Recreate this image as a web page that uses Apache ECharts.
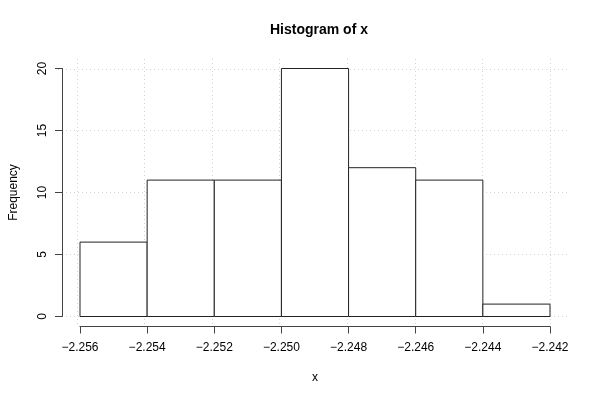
<!DOCTYPE html>
<html>
<head>
<meta charset="utf-8">
<script src="https://cdn.jsdelivr.net/npm/echarts@6/dist/echarts.min.js"></script>
<style>html,body{margin:0;padding:0;background:#fff}#c{width:600px;height:400px}</style>
</head>
<body>
<div id="c"></div>
<script>
// Data
const breaks = [-2.256, -2.254, -2.252, -2.250, -2.248, -2.246, -2.244, -2.242];
const counts = [6, 11, 11, 20, 12, 11, 1];
const xTicks = [-2.256, -2.254, -2.252, -2.250, -2.248, -2.246, -2.244, -2.242];
const yTicks = [0, 5, 10, 15, 20];
const titleText = 'Histogram of x';
const xName = 'x';
const yName = 'Frequency';

const bins = counts.map((c, i) => [breaks[i], breaks[i + 1], c]);
const FONT = 'Liberation Sans, Arial, Helvetica, sans-serif';
const fmt = v => (v < 0 ? '\u2212' : '') + Math.abs(v).toFixed(3);

const xRange = breaks[breaks.length - 1] - breaks[0];
const yMax = Math.max(...yTicks);

const chart = echarts.init(document.getElementById('c'), null, {renderer: 'canvas'});
chart.setOption({
  animation: false,
  backgroundColor: '#fff',
  title: {
    text: titleText, left: 314, top: 18, textAlign: 'center',
    textStyle: {fontFamily: FONT, fontSize: 14, fontWeight: 'bold', color: '#000'}
  },
  grid: [
    {left: 58, right: 31, top: 59, bottom: 74},
    {left: 77, right: 50, top: 68.5, bottom: 83.5}
  ],
  xAxis: [
    {
      type: 'value', gridIndex: 0,
      min: breaks[0] - xRange * 0.04, max: breaks[breaks.length - 1] + xRange * 0.04,
      axisLine: {show: false},
      axisTick: {show: false, customValues: xTicks},
      axisLabel: {show: false, customValues: xTicks},
      splitLine: {show: true, lineStyle: {color: '#d3d3d3', type: [1, 3], width: 1}}
    },
    {
      type: 'value', gridIndex: 1,
      min: xTicks[0], max: xTicks[xTicks.length - 1], interval: 0.002,
      offset: 10,
      axisLine: {show: true, onZero: false, lineStyle: {color: '#444', width: 1}},
      axisTick: {show: true, length: 7, lineStyle: {color: '#444'}},
      axisLabel: {show: true, margin: 15, formatter: fmt, color: '#000', fontFamily: FONT, fontSize: 12, showMinLabel: true, showMaxLabel: true},
      splitLine: {show: false},
      name: xName, nameLocation: 'middle', nameGap: 45,
      nameTextStyle: {fontFamily: FONT, fontSize: 12, color: '#000'}
    }
  ],
  yAxis: [
    {
      type: 'value', gridIndex: 0,
      min: -yMax * 0.04, max: yMax * 1.04,
      axisLine: {show: false},
      axisTick: {show: false, customValues: yTicks},
      axisLabel: {show: false, customValues: yTicks},
      splitLine: {show: true, lineStyle: {color: '#d3d3d3', type: [1, 3], width: 1}}
    },
    {
      type: 'value', gridIndex: 1,
      min: yTicks[0], max: yTicks[yTicks.length - 1], interval: 5,
      offset: 18,
      axisLine: {show: true, onZero: false, lineStyle: {color: '#444', width: 1}},
      axisTick: {show: true, length: 7, lineStyle: {color: '#444'}},
      axisLabel: {show: true, margin: 13, rotate: 90, color: '#000', fontFamily: FONT, fontSize: 12},
      splitLine: {show: false},
      name: yName, nameLocation: 'middle', nameGap: 42, nameRotate: 90,
      nameTextStyle: {fontFamily: FONT, fontSize: 12, color: '#000'}
    }
  ],
  series: [{
    type: 'custom',
    xAxisIndex: 1, yAxisIndex: 1,
    data: bins,
    renderItem: function (params, api) {
      const p0 = api.coord([api.value(0), 0]);
      const p1 = api.coord([api.value(1), api.value(2)]);
      return {
        type: 'rect',
        shape: {x: p0[0], y: p1[1], width: p1[0] - p0[0], height: p0[1] - p1[1]},
        style: {fill: '#fff', stroke: '#222', lineWidth: 1}
      };
    }
  }]
});
</script>
</body>
</html>
